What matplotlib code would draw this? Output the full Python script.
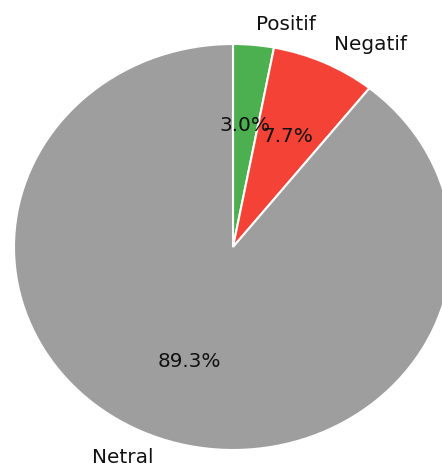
import matplotlib
matplotlib.use("Agg")
import matplotlib.pyplot as plt

labels = ["Positif", "Negatif", "Netral"]
values = [3.0, 7.7, 89.3]
colors = ["#4CAF50", "#F44336", "#9E9E9E"]

W, H = 442, 468
fig = plt.figure(figsize=(W / 100, H / 100), dpi=100)
ax = fig.add_axes([0, 0, 1, 1])
ax.pie(values, labels=labels, colors=colors, autopct="%1.1f%%",
       startangle=90, counterclock=False,
       wedgeprops=dict(edgecolor="white", linewidth=1.5),
       textprops=dict(fontsize=14.4, color="#111111"))
ax.set_aspect("auto")
cx, cy, rx, ry = 233, 247, 219, 203
ax.set_xlim(-cx / rx, (W - cx) / rx)
ax.set_ylim(-(H - cy) / ry, cy / ry)
ax.axis("off")
fig.savefig("out.png", dpi=100)
